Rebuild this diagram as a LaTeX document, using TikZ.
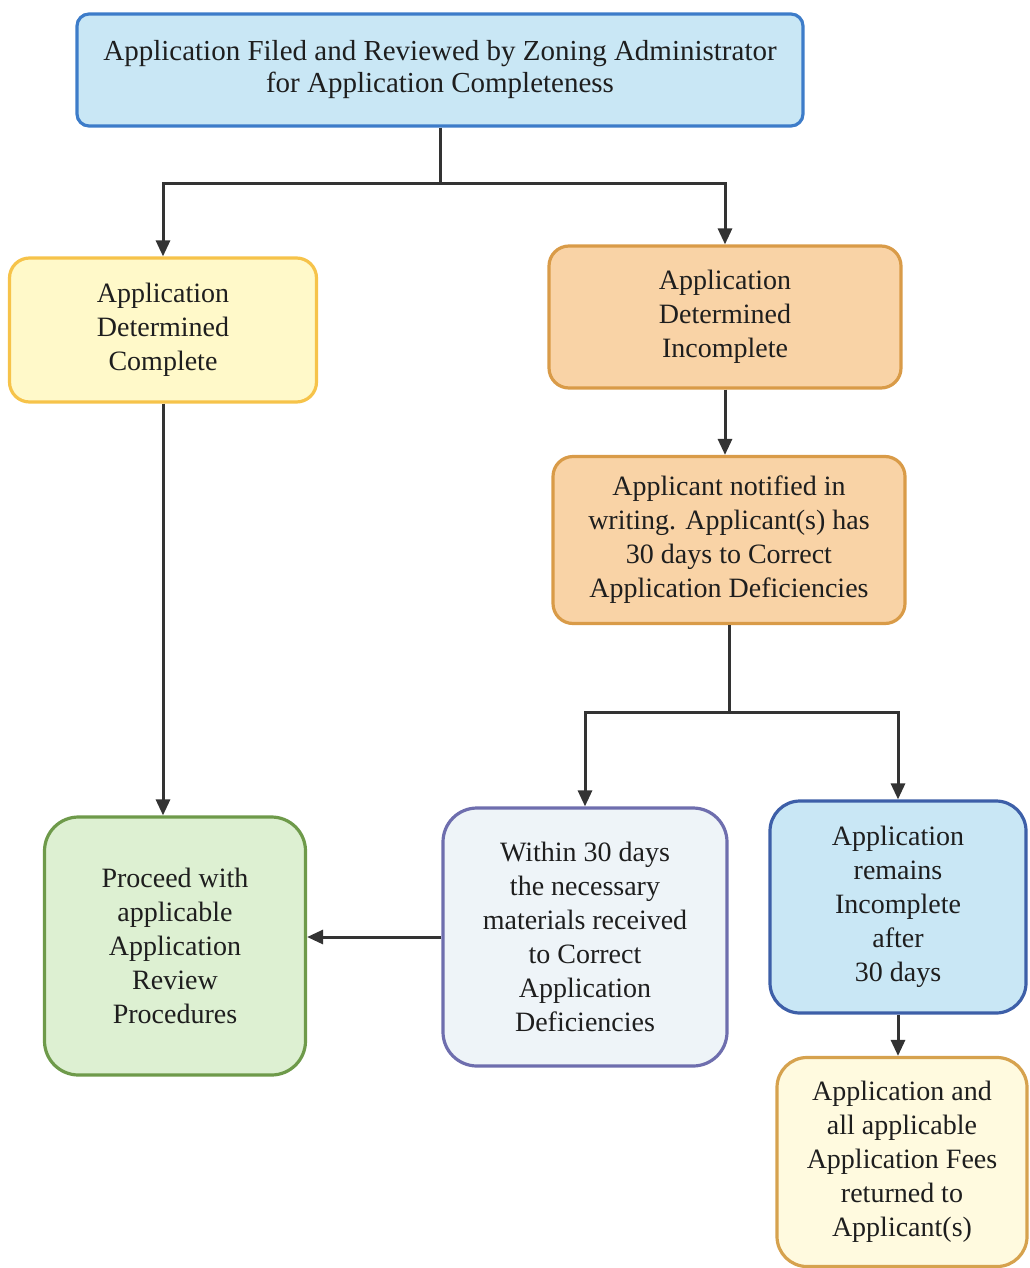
\documentclass[tikz,border=0pt]{standalone}
\usepackage{fontspec}
\setmainfont{Liberation Serif}
\usepackage{xcolor}
\usetikzlibrary{positioning, arrows.meta}
\definecolor{cInk}       {HTML}{1E1E1E}
\definecolor{cLine}      {HTML}{333333}
\definecolor{cSkyFill}   {HTML}{C9E7F5}
\definecolor{cSkyEdge}   {HTML}{3D7CC9}
\definecolor{cLemonFill} {HTML}{FFF9C9}
\definecolor{cLemonEdge} {HTML}{F6C34A}
\definecolor{cPeachFill} {HTML}{F9D3A6}
\definecolor{cPeachEdge} {HTML}{D99B48}
\definecolor{cMintFill}  {HTML}{DDF0D2}
\definecolor{cMintEdge}  {HTML}{6E9A4A}
\definecolor{cMistFill}  {HTML}{EEF4F8}
\definecolor{cMistEdge}  {HTML}{6E6EAE}
\definecolor{cNavyEdge}  {HTML}{3D5FA8}
\definecolor{cCreamFill} {HTML}{FFFADF}
\definecolor{cCreamEdge} {HTML}{D6A24E}

\begin{document}
\begin{tikzpicture}[x=0.5pt, y=-0.5pt,
    stepbox/.style={draw, line width=1.6pt, align=center, inner sep=0pt,
      text=cInk, font=\fontsize{14}{17}\selectfont},
    link/.style={draw=cLine, line width=1.5pt},
    arr/.style={link, -{Triangle[length=8pt, width=7pt]}},
  ]
  \useasboundingbox (0,0) rectangle (1029,1268);

  % top request box
  \node[stepbox, fill=cSkyFill, draw=cSkyEdge, rounded corners=6pt,
        minimum width=363pt, minimum height=56pt,
        font=\fontsize{14.5}{16}\selectfont] (filed) at (440,70)
        {Application Filed and Reviewed by Zoning Administrator\\
         for Application Completeness};

  % first decision
  \node[stepbox, fill=cLemonFill, draw=cLemonEdge, rounded corners=10pt,
        minimum width=153.5pt, minimum height=72pt] (complete) at (163,330)
        {Application\\Determined\\Complete};
  \node[stepbox, fill=cPeachFill, draw=cPeachEdge, rounded corners=10pt,
        minimum width=176pt, minimum height=71pt] (incomplete) at (725,317)
        {Application\\Determined\\Incomplete};
  \node[stepbox, fill=cPeachFill, draw=cPeachEdge, rounded corners=10pt,
        minimum width=176pt, minimum height=83.5pt] (notified) at (729,540)
        {Applicant notified in\\writing. Applicant(s) has\\30 days to Correct\\
         Application Deficiencies};

  % outcomes
  \node[stepbox, fill=cMintFill, draw=cMintEdge, rounded corners=17pt,
        minimum width=130.5pt, minimum height=129pt] (proceed) at (175,946)
        {Proceed with\\applicable\\Application\\Review\\Procedures};
  \node[stepbox, fill=cMistFill, draw=cMistEdge, rounded corners=17pt,
        minimum width=142pt, minimum height=129pt] (within) at (585,937)
        {Within 30 days\\the necessary\\materials received\\to Correct\\
         Application\\Deficiencies};
  \node[stepbox, fill=cSkyFill, draw=cNavyEdge, rounded corners=15pt,
        minimum width=128pt, minimum height=106pt] (remains) at (898,907)
        {Application\\remains\\Incomplete\\after\\30 days};
  \node[stepbox, fill=cCreamFill, draw=cCreamEdge, rounded corners=15pt,
        minimum width=125pt, minimum height=104.5pt] (returned) at (902,1162)
        {Application and\\all applicable\\Application Fees\\returned to\\
         Applicant(s)};

  % connectors
  \coordinate (forkTop) at (440,183);
  \draw[link] (filed.south) -- (forkTop);
  \draw[arr] (forkTop) -| (complete.north);
  \draw[arr] (forkTop) -| (incomplete.north);
  \draw[arr] (complete.south) -- (complete.south |- proceed.north);
  \draw[arr] (incomplete.south) -- (incomplete.south |- notified.north);
  \coordinate (forkLow) at (729,712);
  \draw[link] (notified.south) -- (forkLow);
  \draw[arr] (forkLow) -| (within.north);
  \draw[arr] (forkLow) -| (remains.north);
  \draw[arr] (within.west) -- (within.west -| proceed.east);
  \draw[arr] (remains.south) -- (remains.south |- returned.north);
\end{tikzpicture}
\end{document}
